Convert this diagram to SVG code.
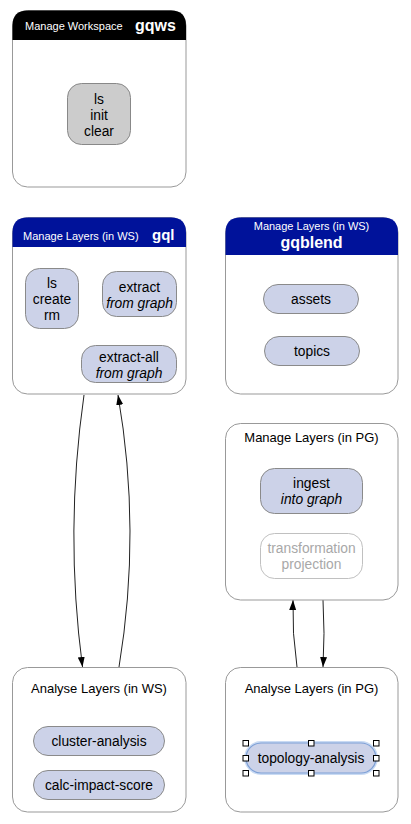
<svg xmlns="http://www.w3.org/2000/svg" width="411" height="824" viewBox="0 0 411 824">
<defs>
<style>
text{font-family:"Liberation Sans",Arial,sans-serif;fill:#000;}
.box{fill:#fff;stroke:#999;stroke-width:1;}
.n{fill:#ccd2e8;stroke:#8a8a8a;stroke-width:1;}
.t14{font-size:13.8px;text-anchor:middle;}
.ttl{font-size:13px;text-anchor:middle;}
.hd{font-size:11px;fill:#fff;}
.hb{font-size:16px;font-weight:bold;fill:#fff;}
.it{font-style:italic;}
.conn{fill:none;stroke:#222;stroke-width:1;}
.h{fill:#fff;stroke:#000;stroke-width:1;}
</style>
<marker id="arr" markerWidth="10" markerHeight="10" refX="10" refY="5" orient="auto" markerUnits="userSpaceOnUse">
<path d="M0,1.5 L10,5 L0,8.5 Z" fill="#000"/>
</marker>
</defs>
<rect width="411" height="824" fill="#fff"/>

<g id="connectors">
<path class="conn" d="M84 395 Q64.5 531 82.5 667" marker-end="url(#arr)"/>
<path class="conn" d="M119 667 Q141.5 531 118 395" marker-end="url(#arr)"/>
<path class="conn" d="M297 667 Q292 633 293 600" marker-end="url(#arr)"/>
<path class="conn" d="M323 600 Q325 633 323 667" marker-end="url(#arr)"/>
</g>

<g id="gqws">
<rect class="box" x="12.5" y="10.5" width="173.5" height="176.5" rx="15"/>
<path d="M12.5 40 L12.5 25.5 Q12.5 10.5 27.5 10.5 L171 10.5 Q186 10.5 186 25.5 L186 40 Z" fill="#000"/>
<text class="hd" x="25" y="30">Manage Workspace</text>
<text class="hb" x="135" y="31">gqws</text>
<g id="gqws-cmds">
<rect x="67.5" y="83.5" width="63" height="61" rx="14" fill="#cccccc" stroke="#888"/>
<text class="t14" x="99" y="104">ls</text>
<text class="t14" x="99" y="120">init</text>
<text class="t14" x="99" y="136">clear</text>
</g>
</g>

<g id="gql">
<rect class="box" x="12.5" y="217.5" width="173.5" height="176.5" rx="15"/>
<path d="M12.5 247 L12.5 232.5 Q12.5 217.5 27.5 217.5 L171 217.5 Q186 217.5 186 232.5 L186 247 Z" fill="#00129a"/>
<text class="hd" x="23" y="240">Manage Layers (in WS)</text>
<text class="hb" x="152" y="240" style="font-size:15px">gql</text>
<g id="gql-ls">
<rect class="n" x="25.5" y="268.5" width="53" height="60" rx="14"/>
<text class="t14" x="52" y="288">ls</text>
<text class="t14" x="52" y="304">create</text>
<text class="t14" x="52" y="320">rm</text>
</g>
<g id="gql-extract">
<rect class="n" x="102.5" y="271.5" width="74" height="45" rx="14"/>
<text class="t14" x="139.5" y="292">extract</text>
<text class="t14 it" x="139.5" y="308">from graph</text>
</g>
<g id="gql-extract-all">
<rect class="n" x="81.5" y="345.5" width="95" height="37" rx="14"/>
<text class="t14" x="129" y="362">extract-all</text>
<text class="t14 it" x="129" y="378">from graph</text>
</g>
</g>

<g id="gqblend">
<rect class="box" x="225.5" y="217.5" width="172.5" height="176.5" rx="15"/>
<path d="M225.5 255 L225.5 232.5 Q225.5 217.5 240.5 217.5 L383 217.5 Q398 217.5 398 232.5 L398 255 Z" fill="#00129a"/>
<text class="hd" x="311.5" y="230" text-anchor="middle">Manage Layers (in WS)</text>
<text class="hb" x="311.5" y="248" text-anchor="middle">gqblend</text>
<g id="gqblend-assets">
<rect class="n" x="263.5" y="284.5" width="95" height="29" rx="14.5"/>
<text class="t14" x="311" y="304">assets</text>
</g>
<g id="gqblend-topics">
<rect class="n" x="264.5" y="336.5" width="95" height="29" rx="14.5"/>
<text class="t14" x="312" y="356">topics</text>
</g>
</g>

<g id="pg-manage">
<rect class="box" x="225.5" y="423.5" width="172.5" height="176.5" rx="15"/>
<text class="ttl" x="311.5" y="442">Manage Layers (in PG)</text>
<g id="pg-ingest">
<rect class="n" x="260.5" y="468.5" width="102" height="45" rx="14"/>
<text class="t14" x="311.5" y="488">ingest</text>
<text class="t14 it" x="311.5" y="504">into graph</text>
</g>
<g id="pg-transformation">
<rect x="260.5" y="533.5" width="102" height="45" rx="14" fill="#fff" stroke="#c0c0c0"/>
<text class="t14" x="311.5" y="553" style="fill:#a8a8a8">transformation</text>
<text class="t14" x="311.5" y="569" style="fill:#a8a8a8">projection</text>
</g>
</g>

<g id="ws-analyse">
<rect class="box" x="12.5" y="667.5" width="173.5" height="144.5" rx="15"/>
<text class="ttl" x="99" y="693">Analyse Layers (in WS)</text>
<g id="ws-cluster">
<rect class="n" x="33.5" y="726.5" width="131" height="29" rx="14.5"/>
<text class="t14" x="99" y="746">cluster-analysis</text>
</g>
<g id="ws-calc">
<rect class="n" x="33.5" y="770.5" width="131" height="29" rx="14.5"/>
<text class="t14" x="99" y="790">calc-impact-score</text>
</g>
</g>

<g id="pg-analyse">
<rect class="box" x="225.5" y="667.5" width="172.5" height="144.5" rx="15"/>
<text class="ttl" x="311.5" y="693">Analyse Layers (in PG)</text>
<g id="pg-topology">
<rect x="246" y="743" width="130" height="30" rx="15" fill="none" stroke="#c9daf3" stroke-width="4"/>
<rect x="246" y="743" width="130" height="30" rx="15" fill="#ccd2e8" stroke="#7ea0d6" stroke-width="1.2"/>
<text class="t14" x="311" y="763">topology-analysis</text>
<rect class="h" x="243" y="740.5" width="5.5" height="5.5"/>
<rect class="h" x="308.5" y="740.5" width="5.5" height="5.5"/>
<rect class="h" x="373.5" y="740.5" width="5.5" height="5.5"/>
<rect class="h" x="243" y="755.5" width="5.5" height="5.5"/>
<rect class="h" x="373.5" y="755.5" width="5.5" height="5.5"/>
<rect class="h" x="243" y="770.5" width="5.5" height="5.5"/>
<rect class="h" x="308.5" y="770.5" width="5.5" height="5.5"/>
<rect class="h" x="373.5" y="770.5" width="5.5" height="5.5"/>
</g>
</g>
</svg>
